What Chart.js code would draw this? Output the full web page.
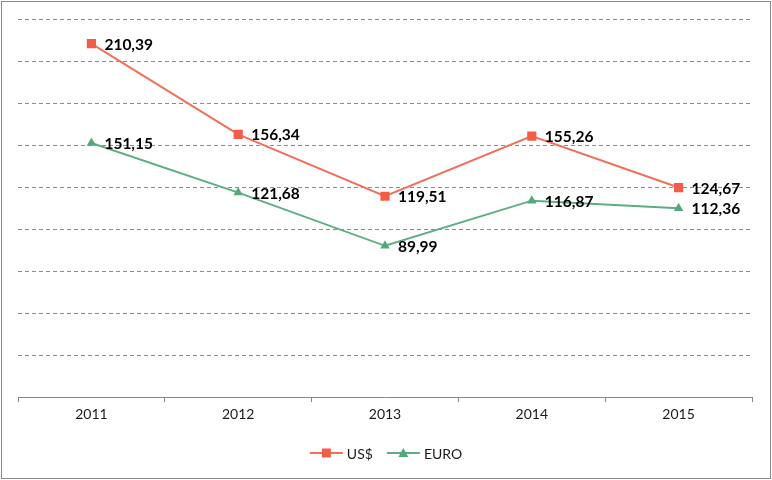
<!DOCTYPE html>
<html>
<head>
<meta charset="utf-8">
<script src="https://cdn.jsdelivr.net/npm/chart.js@4"></script>
<style>
  html, body { margin: 0; padding: 0; background: #fff; }
  #wrap { width: 772px; height: 480px; position: relative; }
</style>
</head>
<body>
<div id="wrap"><canvas id="myChart"></canvas></div>
<script>
// Datos del gráfico
const years = ['2011', '2012', '2013', '2014', '2015'];
const usdValues = [210.39, 156.34, 119.51, 155.26, 124.67];
const euroValues = [151.15, 121.68, 89.99, 116.87, 112.36];
const seriesNames = ['US$', 'EURO'];

const usdColor = '#F0705C';
const usdMarker = '#F25D48';
const euroColor = '#5DAE84';
const euroMarker = '#55A87A';

// Etiquetas de valores junto a cada punto
const valueLabels = {
    id: 'valueLabels',
    afterDatasetsDraw(chart) {
        const ctx = chart.ctx;
        ctx.save();
        ctx.font = 'bold 15.5px Lato';
        ctx.fillStyle = '#000';
        ctx.textAlign = 'left';
        ctx.textBaseline = 'middle';
        chart.data.datasets.forEach((ds, i) => {
            chart.getDatasetMeta(i).data.forEach((pt, j) => {
                const txt = ds.data[j].toFixed(2).replace('.', ',');
                ctx.fillText(txt, pt.x + 13, pt.y + 1);
            });
        });
        ctx.restore();
    }
};

// Leyenda con línea y marcador, más el borde exterior
const customLegend = {
    id: 'customLegend',
    afterDraw(chart) {
        const ctx = chart.ctx;
        ctx.save();
        ctx.font = '14px Lato';
        const items = [
            { name: seriesNames[0], line: usdColor, marker: usdMarker, style: 'rect' },
            { name: seriesNames[1], line: euroColor, marker: euroMarker, style: 'triangle' }
        ];
        const lineW = 33, gap = 4, itemGap = 14;
        let total = 0;
        items.forEach((it, k) => {
            it.w = lineW + gap + ctx.measureText(it.name).width;
            total += it.w + (k > 0 ? itemGap : 0);
        });
        let x = chart.width / 2 - total / 2;
        const y = 453;
        items.forEach(it => {
            ctx.strokeStyle = it.line;
            ctx.lineWidth = 2;
            ctx.beginPath();
            ctx.moveTo(x, y);
            ctx.lineTo(x + lineW, y);
            ctx.stroke();
            ctx.fillStyle = it.marker;
            if (it.style === 'rect') {
                ctx.fillRect(x + lineW / 2 - 4.5, y - 4.5, 9, 9);
            } else {
                ctx.beginPath();
                ctx.moveTo(x + lineW / 2, y - 5);
                ctx.lineTo(x + lineW / 2 + 5, y + 4);
                ctx.lineTo(x + lineW / 2 - 5, y + 4);
                ctx.closePath();
                ctx.fill();
            }
            ctx.fillStyle = '#1a1a1a';
            ctx.textBaseline = 'middle';
            ctx.fillText(it.name, x + lineW + gap, y + 1);
            x += it.w + itemGap;
        });
        ctx.strokeStyle = '#8a8a8a';
        ctx.lineWidth = 1;
        ctx.strokeRect(1.5, 1.5, chart.width - 3, chart.height - 3);
        ctx.restore();
    }
};

const ctx = document.getElementById('myChart').getContext('2d');
new Chart(ctx, {
    type: 'line',
    data: {
        labels: years,
        datasets: [{
            label: seriesNames[0],
            data: usdValues,
            borderColor: usdColor,
            backgroundColor: usdMarker,
            borderWidth: 2,
            pointStyle: 'rect',
            pointRadius: 6.5,
            pointBorderWidth: 0,
            pointHoverRadius: 6.5,
            tension: 0
        }, {
            label: seriesNames[1],
            data: euroValues,
            borderColor: euroColor,
            backgroundColor: euroMarker,
            borderWidth: 2,
            pointStyle: 'triangle',
            pointRadius: 5.5,
            pointBorderWidth: 0,
            pointHoverRadius: 5.5,
            tension: 0
        }]
    },
    options: {
        responsive: true,
        maintainAspectRatio: false,
        animation: false,
        layout: { padding: { left: 18, right: 20, top: 19, bottom: 0 } },
        plugins: {
            legend: { display: false },
            tooltip: { enabled: false }
        },
        scales: {
            x: {
                offset: true,
                afterFit: (scale) => { scale.height = 83; },
                grid: {
                    offset: true,
                    drawOnChartArea: false,
                    drawTicks: true,
                    tickLength: 5,
                    color: '#868686'
                },
                border: { color: '#868686', width: 1 },
                ticks: {
                    font: { family: 'Lato', size: 14 },
                    color: '#1a1a1a',
                    padding: 4,
                    maxRotation: 0
                }
            },
            y: {
                min: 0,
                max: 225,
                afterFit: (scale) => { scale.width = 0; },
                ticks: { display: false, stepSize: 25 },
                border: { display: false, dash: [4, 3] },
                grid: {
                    drawTicks: false,
                    color: (c) => c.tick && c.tick.value === 0 ? 'rgba(0,0,0,0)' : '#8c8c8c',
                    lineWidth: 1
                }
            }
        }
    },
    plugins: [valueLabels, customLegend]
});
</script>
</body>
</html>
